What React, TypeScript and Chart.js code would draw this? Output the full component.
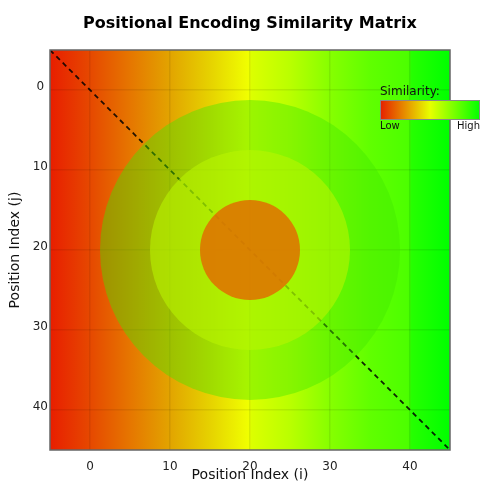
import React, { useEffect, useRef } from "react";
import { Chart, registerables } from "chart.js";

Chart.register(...registerables);

// ---- data ----
const tickPositions = [0, 10, 20, 30, 40];
const axisMin = -5;
const axisMax = 45;
const diagonalX = [-5, 45];
const diagonalY = [-5, 45];
const circleCenter = [20, 20];
const circleRadii = [18.75, 12.5, 6.25];
const circleColors = ["rgba(64,232,0,0.42)", "rgba(186,244,0,0.59)", "rgba(224,112,0,0.86)"];
const gradientValues = [-5, 0, 5, 10, 15, 19.8, 20.2, 25, 30, 35, 39.8, 40.2, 45];
const gradientColors = [
  "#e81e00", "#e64800", "#e67600", "#e2a400", "#e6d200", "#f0ff00",
  "#dcff00", "#baff00", "#86ff00", "#60ff00", "#4cff00", "#26ff00", "#00ff00",
];
const legendStops = [0, 0.5, 1];
const legendColors = ["#e61e00", "#e8ff00", "#00ff00"];

const FONT = "'DejaVu Sans', sans-serif";

const backgroundPlugin = {
  id: "simBackground",
  beforeDraw(chart: any) {
    const { ctx, chartArea, scales } = chart;
    const xs = scales.x;
    const x0 = xs.getPixelForValue(axisMin);
    const x1 = xs.getPixelForValue(axisMax);
    const g = ctx.createLinearGradient(x0, 0, x1, 0);
    gradientValues.forEach((v, i) => {
      g.addColorStop((v - axisMin) / (axisMax - axisMin), gradientColors[i]);
    });
    ctx.save();
    ctx.fillStyle = g;
    ctx.fillRect(chartArea.left, chartArea.top, chartArea.right - chartArea.left, chartArea.bottom - chartArea.top);
    ctx.restore();
  },
};

const circlesPlugin = {
  id: "simCircles",
  afterDatasetsDraw(chart: any) {
    const { ctx, scales } = chart;
    const cx = scales.x.getPixelForValue(circleCenter[0]);
    const cy = scales.y.getPixelForValue(circleCenter[1]);
    ctx.save();
    circleRadii.forEach((r, i) => {
      const pr = Math.abs(scales.x.getPixelForValue(circleCenter[0] + r) - cx);
      ctx.beginPath();
      ctx.arc(cx, cy, pr, 0, Math.PI * 2);
      ctx.fillStyle = circleColors[i];
      ctx.fill();
    });
    ctx.restore();
  },
};

const framePlugin = {
  id: "simFrame",
  afterDraw(chart: any) {
    const { ctx, chartArea } = chart;
    ctx.save();
    ctx.strokeStyle = "#666";
    ctx.lineWidth = 1.5;
    ctx.strokeRect(chartArea.left, chartArea.top, chartArea.right - chartArea.left, chartArea.bottom - chartArea.top);

    // colour legend
    const lx = chartArea.right - 70;
    const ly = chartArea.top + 50;
    const lw = 100;
    const lh = 20;
    ctx.fillStyle = "#111";
    ctx.font = `12px ${FONT}`;
    ctx.textAlign = "left";
    ctx.textBaseline = "middle";
    ctx.fillText("Similarity:", lx, ly - 8);
    const g = ctx.createLinearGradient(lx, 0, lx + lw, 0);
    legendStops.forEach((s, i) => g.addColorStop(s, legendColors[i]));
    ctx.fillStyle = g;
    ctx.fillRect(lx, ly, lw, lh);
    ctx.strokeStyle = "#888";
    ctx.lineWidth = 1;
    ctx.strokeRect(lx + 0.5, ly + 0.5, lw - 1, lh - 1);
    ctx.fillStyle = "#111";
    ctx.font = `10px ${FONT}`;
    ctx.textBaseline = "top";
    ctx.fillText("Low", lx, ly + lh + 1);
    ctx.textAlign = "right";
    ctx.fillText("High", lx + lw, ly + lh + 1);
    ctx.restore();
  },
};

export default function App() {
  const canvasRef = useRef<HTMLCanvasElement | null>(null);

  useEffect(() => {
    if (!canvasRef.current) return;
    const setTicks = (scale: any) => {
      scale.ticks = tickPositions.map((v) => ({ value: v }));
    };
    const chart = new Chart(canvasRef.current, {
      type: "scatter",
      data: {
        datasets: [
          {
            label: "diagonal",
            data: diagonalX.map((x, i) => ({ x, y: diagonalY[i] })),
            showLine: true,
            borderColor: "rgba(0,0,0,0.85)",
            borderWidth: 1.8,
            borderDash: [5, 4],
            pointRadius: 0,
            pointHoverRadius: 0,
          },
        ],
      },
      options: {
        animation: false,
        responsive: false,
        layout: { padding: 0 },
        plugins: {
          legend: { display: false },
          tooltip: { enabled: false },
          title: {
            display: true,
            text: "Positional Encoding Similarity Matrix",
            color: "#000",
            font: { family: FONT, size: 16, weight: "bold" },
            padding: { top: 14, bottom: 16.8 },
          },
        },
        scales: {
          x: {
            type: "linear",
            min: axisMin,
            max: axisMax,
            afterBuildTicks: setTicks,
            afterFit: (s: any) => {
              s.height = 50;
            },
            grid: { color: "rgba(0,0,0,0.08)", drawTicks: false, lineWidth: 1.5 },
            border: { display: false },
            ticks: { color: "#222", font: { family: FONT, size: 12 }, padding: 10 },
            title: {
              display: true,
              text: "Position Index (i)",
              color: "#111",
              font: { family: FONT, size: 14 },
              padding: { top: 0, bottom: 16.6 },
            },
          },
          y: {
            type: "linear",
            reverse: true,
            min: axisMin,
            max: axisMax,
            afterBuildTicks: setTicks,
            afterFit: (s: any) => {
              s.width = 50;
            },
            grid: { color: "rgba(0,0,0,0.08)", drawTicks: false, lineWidth: 1.5 },
            border: { display: false },
            ticks: {
              color: "#222",
              font: { family: FONT, size: 12 },
              padding: 2,
              crossAlign: "center",
              labelOffset: -3,
            },
            title: {
              display: true,
              text: "Position Index (j)",
              color: "#111",
              font: { family: FONT, size: 14 },
              padding: { top: 6.6, bottom: 0 },
            },
          },
          yRight: {
            type: "linear",
            position: "right",
            min: axisMin,
            max: axisMax,
            display: true,
            afterFit: (s: any) => {
              s.width = 50;
            },
            grid: { display: false, drawTicks: false },
            border: { display: false },
            ticks: { display: false },
          },
        },
      },
      plugins: [backgroundPlugin, circlesPlugin, framePlugin],
    } as any);
    return () => chart.destroy();
  }, []);

  return (
    <div style={{ position: "absolute", left: 0, top: 0, width: 500, height: 500, background: "#fff" }}>
      <canvas ref={canvasRef} width={500} height={500} style={{ display: "block" }} />
    </div>
  );
}
